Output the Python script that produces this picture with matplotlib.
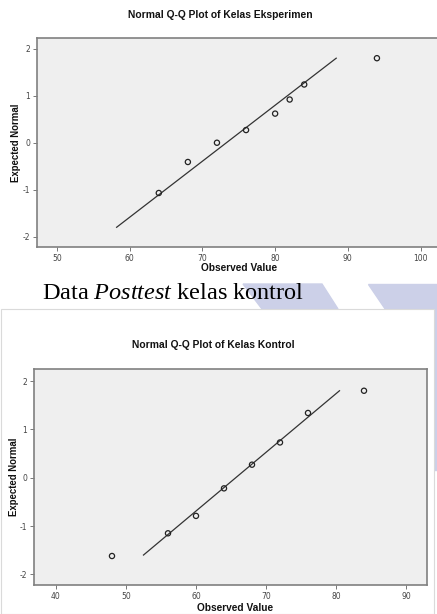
import matplotlib
matplotlib.use("Agg")
import matplotlib.pyplot as plt
from matplotlib.patches import Polygon, Rectangle

# data kelas eksperimen
eks_obs = [64, 68, 72, 76, 80, 82, 84, 94]
eks_exp = [-1.07, -0.41, 0.0, 0.27, 0.62, 0.92, 1.24, 1.80]
eks_line_x = [58.2, 88.4]
eks_line_y = [-1.8, 1.8]
eks_xticks = [50, 60, 70, 80, 90, 100]

# data kelas kontrol
kon_obs = [48, 56, 60, 64, 68, 72, 76, 84]
kon_exp = [-1.62, -1.15, -0.79, -0.22, 0.27, 0.73, 1.34, 1.80]
kon_line_x = [52.5, 80.5]
kon_line_y = [-1.6, 1.8]
kon_xticks = [40, 50, 60, 70, 80, 90]

yticks = [-2, -1, 0, 1, 2]

W, H = 437, 614
plt.rcParams["mathtext.fontset"] = "custom"
plt.rcParams["mathtext.rm"] = "Liberation Serif"
plt.rcParams["mathtext.it"] = "Liberation Serif:italic"
plt.rcParams["axes.unicode_minus"] = False

fig = plt.figure(figsize=(W / 100, H / 100), dpi=100)
fig.patch.set_facecolor("white")


def px(pts):
    return [(x / W, 1 - y / H) for x, y in pts]


# watermark di latar (pita ungu muda)
wm = "#ccd0e8"
fig.patches.append(Polygon(px([(243, 284), (322, 284), (338, 309), (262, 309)]),
                           closed=True, transform=fig.transFigure, color=wm, zorder=-3))
fig.patches.append(Polygon(px([(368, 284), (437, 284), (437, 309), (385, 309)]),
                           closed=True, transform=fig.transFigure, color=wm, zorder=-3))
fig.patches.append(Rectangle((433 / W, 1 - 470 / H), 4 / W, 161 / H,
                             transform=fig.transFigure, color=wm, zorder=-3))
# kotak gambar bawah
fig.patches.append(Rectangle((0.5 / W, 1 - 613.5 / H), 433 / W, 304.5 / H, facecolor="white",
                             edgecolor="#dadada", lw=0.8, transform=fig.transFigure, zorder=-2))


def qq_panel(rect, obs, exp, lx, ly, xticks, xlim, ylim, title, title_xy, xlab_xy, ylab_x):
    ax = fig.add_axes(rect)
    ax.set_facecolor("#efefef")
    ax.plot(lx, ly, color="#333333", lw=0.9, zorder=2)
    ax.scatter(obs, exp, s=14, facecolors="none", edgecolors="#222222", linewidths=0.9, zorder=3)
    ax.set_xlim(*xlim)
    ax.set_ylim(*ylim)
    ax.set_xticks(xticks)
    ax.set_yticks(yticks)
    ax.tick_params(direction="out", length=3, width=0.7, colors="#777777",
                   labelsize=5.5, labelcolor="#444444", pad=2)
    for s in ax.spines.values():
        s.set_color("#808080")
        s.set_linewidth(1.2)
    fig.text(title_xy[0] / W, 1 - title_xy[1] / H, title, ha="center", va="center",
             fontsize=7.4, fontweight="bold", family="Liberation Sans", color="#111111")
    fig.text(xlab_xy[0] / W, 1 - xlab_xy[1] / H, "Observed Value", ha="center", va="center",
             fontsize=7.3, fontweight="bold", family="Liberation Sans", color="#111111")
    fig.text(ylab_x / W, rect[1] + rect[3] / 2, "Expected Normal", rotation=90,
             ha="center", va="center", fontsize=6.9, fontweight="bold",
             family="Liberation Sans", color="#111111")
    return ax


qq_panel([37 / W, (H - 247) / H, 401 / W, 209 / H], eks_obs, eks_exp, eks_line_x, eks_line_y,
         eks_xticks, (47.25, 102.4), (-2.22, 2.23), "Normal Q-Q Plot of Kelas Eksperimen",
         (220, 15), (239, 268), 16)

qq_panel([34 / W, (H - 585) / H, 393 / W, 216 / H], kon_obs, kon_exp, kon_line_x, kon_line_y,
         kon_xticks, (36.86, 93.0), (-2.22, 2.25), "Normal Q-Q Plot of Kelas Kontrol",
         (213, 345), (235, 608), 14)

# keterangan gambar
fig.text(42 / W, 1 - 299 / H, r"Data $\mathit{Posttest}$ kelas kontrol", fontsize=17.5,
         family="Liberation Serif", va="baseline", ha="left", color="black", zorder=2)

fig.savefig("out.png", dpi=100)
